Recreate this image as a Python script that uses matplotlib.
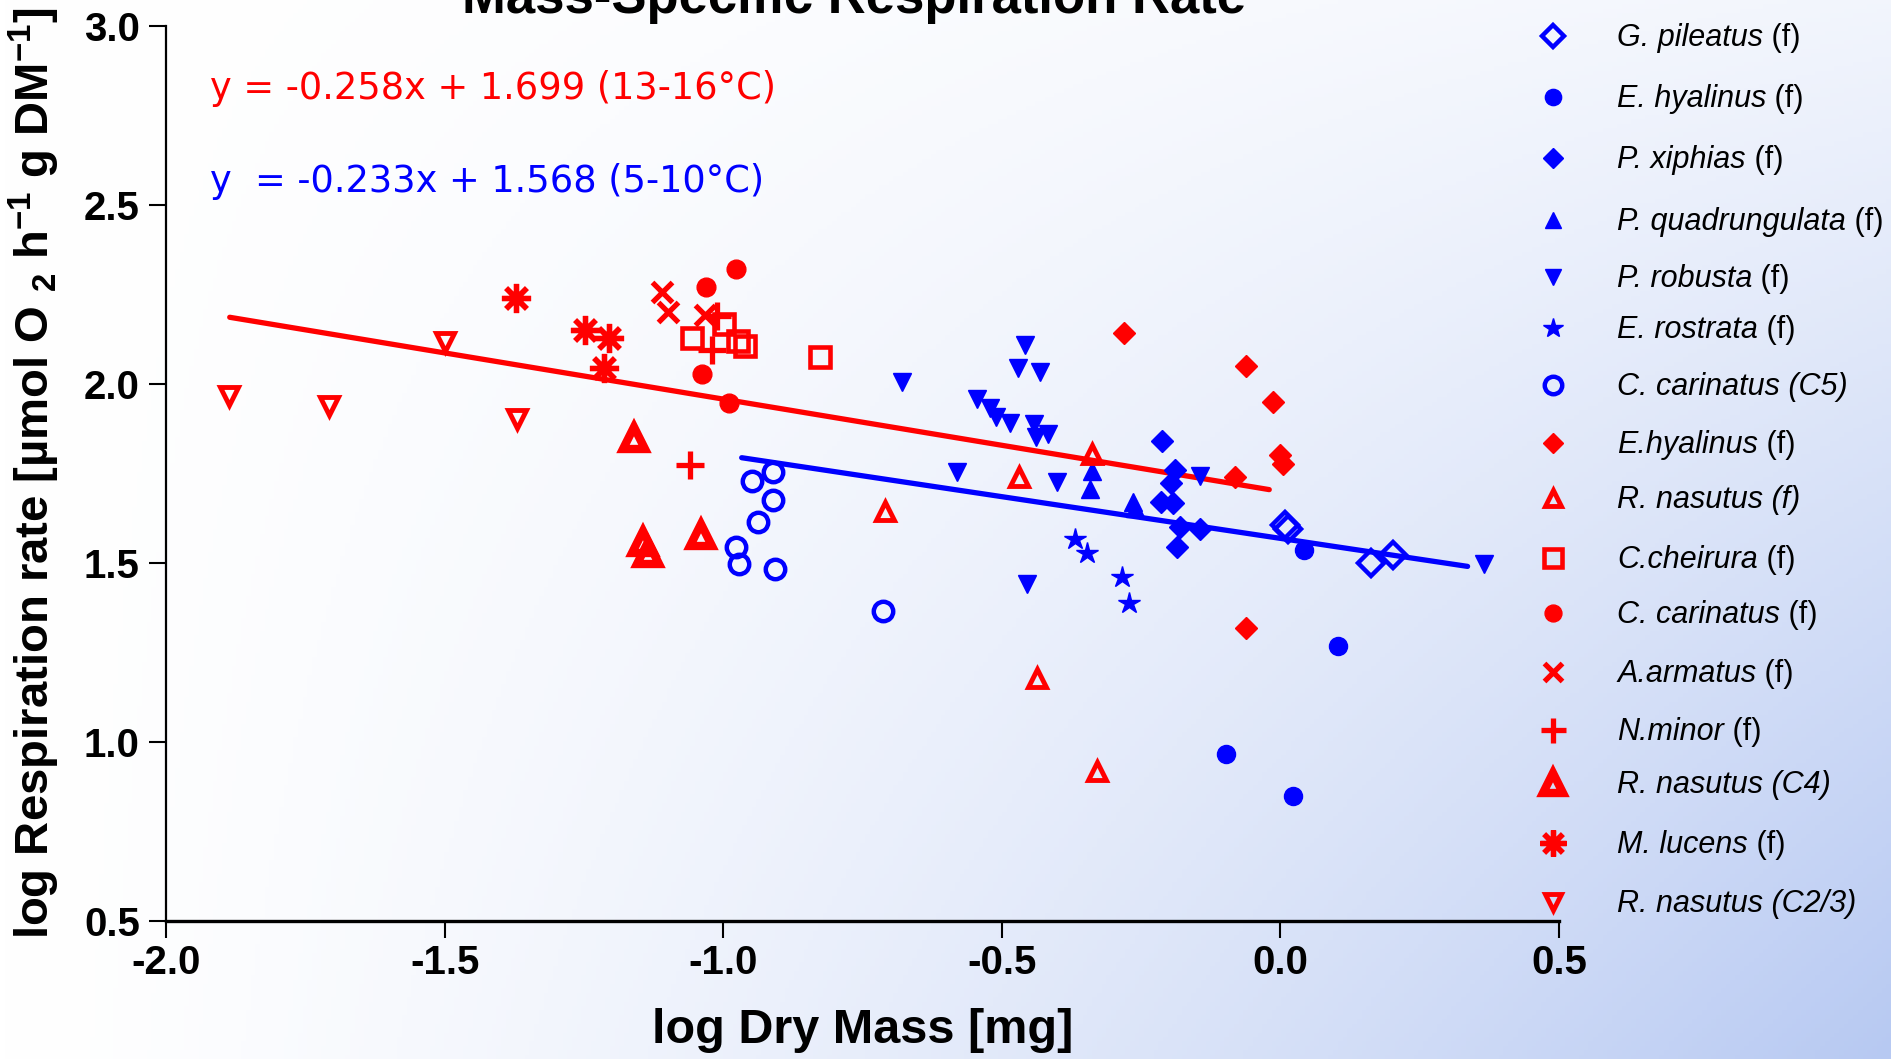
import numpy as np
import matplotlib
matplotlib.use('Agg')
import matplotlib.pyplot as plt

plt.rcParams['font.family'] = ['Liberation Sans', 'DejaVu Sans']
plt.rcParams['mathtext.fontset'] = 'custom'
plt.rcParams['mathtext.rm'] = 'Liberation Sans'
plt.rcParams['mathtext.it'] = 'Liberation Sans:italic'
plt.rcParams['mathtext.bf'] = 'Liberation Sans:bold'
plt.rcParams['axes.unicode_minus'] = False

# --- data (log dry mass, log respiration) ---
# 5-10°C species (blue)
gp_x = [0.008, 0.014, 0.163, 0.202]
gp_y = [1.604, 1.594, 1.498, 1.521]
ehb_x = [0.042, 0.103, -0.097, 0.023]
ehb_y = [1.535, 1.267, 0.965, 0.848]
px_x = [-0.212, -0.190, -0.197, -0.214, -0.193, -0.181, -0.145, -0.186]
px_y = [1.840, 1.759, 1.722, 1.670, 1.666, 1.601, 1.593, 1.543]
pq_x = [-0.338, -0.341, -0.265, -0.261]
pq_y = [1.757, 1.705, 1.670, 1.652]
pr_x = [-0.680, -0.458, -0.471, -0.431, -0.545, -0.521, -0.511, -0.485,
        -0.443, -0.417, -0.439, -0.580, -0.401, -0.454, -0.145, 0.365]
pr_y = [2.006, 2.108, 2.043, 2.032, 1.956, 1.931, 1.908, 1.891,
        1.888, 1.860, 1.850, 1.754, 1.726, 1.440, 1.742, 1.496]
er_x = [-0.369, -0.348, -0.285, -0.272]
er_y = [1.565, 1.526, 1.459, 1.388]
cc5_x = [-0.911, -0.949, -0.911, -0.938, -0.978, -0.972, -0.908, -0.713]
cc5_y = [1.754, 1.728, 1.675, 1.613, 1.545, 1.496, 1.482, 1.366]

# 13-16°C species (red)
ehr_x = [-0.281, -0.061, -0.014, 0.000, 0.004, -0.082, -0.062]
ehr_y = [2.141, 2.050, 1.950, 1.801, 1.776, 1.739, 1.317]
rnf_x = [-0.710, -0.470, -0.339, -0.437, -0.329]
rnf_y = [1.645, 1.740, 1.804, 1.177, 0.919]
cch_x = [-1.057, -0.999, -0.974, -0.961, -0.827]
cch_y = [2.127, 2.167, 2.119, 2.105, 2.074]
ccf_x = [-1.031, -1.039, -0.989, -0.978]
ccf_y = [2.269, 2.027, 1.946, 2.320]
aa_x = [-1.110, -1.099, -1.032]
aa_y = [2.257, 2.199, 2.192]
nm_x = [-1.060, -1.021, -1.012]
nm_y = [1.773, 2.094, 2.190]
rnc4_x = [-1.160, -1.145, -1.136, -1.040]
rnc4_y = [1.847, 1.559, 1.526, 1.577]
ml_x = [-1.372, -1.249, -1.205, -1.214]
ml_y = [2.239, 2.150, 2.129, 2.043]
rnc23_x = [-1.887, -1.707, -1.500, -1.370]
rnc23_y = [1.966, 1.938, 2.117, 1.901]

# regression lines
red_fit = (-0.258, 1.699)
red_xrange = [-1.886, -0.020]
blue_fit = (-0.233, 1.568)
blue_xrange = [-0.967, 0.336]

x_ticks = [-2.0, -1.5, -1.0, -0.5, 0.0, 0.5]
y_ticks = [0.5, 1.0, 1.5, 2.0, 2.5, 3.0]

B = '#0000ff'
R = '#ff0000'
# italic name, upright suffix, x, y, color, marker, size, edge width, filled
series = [
    ('G. pileatus', ' (f)', gp_x, gp_y, B, 'D', 13, 3.2, False),
    ('E. hyalinus', ' (f)', ehb_x, ehb_y, B, 'o', 13, 1, True),
    ('P. xiphias', ' (f)', px_x, px_y, B, 'D', 11, 1, True),
    ('P. quadrungulata', ' (f)', pq_x, pq_y, B, '^', 13, 1, True),
    ('P. robusta', ' (f)', pr_x, pr_y, B, 'v', 13, 1, True),
    ('E. rostrata', ' (f)', er_x, er_y, B, '*', 16, 1, True),
    ('C. carinatus (C5)', '', cc5_x, cc5_y, B, 'o', 14, 3.2, False),
    ('E.hyalinus', ' (f)', ehr_x, ehr_y, R, 'D', 11.5, 1, True),
    ('R. nasutus (f)', '', rnf_x, rnf_y, R, '^', 13, 3.5, False),
    ('C.cheirura', ' (f)', cch_x, cch_y, R, 's', 14, 3.3, False),
    ('C. carinatus', ' (f)', ccf_x, ccf_y, R, 'o', 13.5, 1, True),
    ('A.armatus', ' (f)', aa_x, aa_y, R, 'x', 15, 3.8, True),
    ('N.minor', ' (f)', nm_x, nm_y, R, '+', 20, 3.8, True),
    ('R. nasutus (C4)', '', rnc4_x, rnc4_y, R, '^', 16, 6, False),
    ('M. lucens', ' (f)', ml_x, ml_y, R, (8, 2, 0), 21, 3.8, True),
    ('R. nasutus (C2/3)', '', rnc23_x, rnc23_y, R, 'v', 13, 3.5, False),
]

fig = plt.figure(figsize=(18.91, 10.59), dpi=100)

# background gradient (white top-left -> light blue bottom-right)
bg = fig.add_axes([0, 0, 1, 1])
u = np.linspace(0, 1, 400)[None, :]
v = np.linspace(0, 1, 240)[:, None]
t = u ** 1.4 * (0.18 + 0.82 * v)
c0 = np.array([1.0, 1.0, 1.0])
c1 = np.array([183, 201, 242]) / 255
bg.imshow(c0 + (c1 - c0) * t[..., None], aspect='auto', extent=[0, 1, 0, 1])
bg.axis('off')

ax = fig.add_axes([0.0879, 0.1306, 0.7365, 0.8451])
ax.patch.set_alpha(0)

for (a, b), xr, col in [(red_fit, red_xrange, R), (blue_fit, blue_xrange, B)]:
    xr = np.array(xr)
    ax.plot(xr, a * xr + b, color=col, lw=3.8, solid_capstyle='round', zorder=2)

def style(col, mk, ms, mew, filled):
    return dict(linestyle='none', marker=mk, markersize=ms, markeredgewidth=mew,
                markeredgecolor=col, markerfacecolor=col if filled else 'none')

for name, suf, xs, ys, col, mk, ms, mew, filled in series:
    ax.plot(xs, ys, zorder=3, **style(col, mk, ms, mew, filled))

ax.set_xlim(-2.0, 0.5)
ax.set_ylim(0.5, 3.0)
ax.set_xticks(x_ticks, labels=[f'{v:.1f}' for v in x_ticks], fontweight='bold')
ax.set_yticks(y_ticks, labels=[f'{v:.1f}' for v in y_ticks], fontweight='bold')
ax.tick_params(length=12, width=1.5, labelsize=29, direction='out')
ax.tick_params(axis='x', pad=5)
ax.tick_params(axis='y', pad=7)
for s in ['top', 'right']:
    ax.spines[s].set_visible(False)
ax.spines['left'].set_linewidth(1.6)
ax.spines['bottom'].set_linewidth(2.4)

ax.set_xlabel('log Dry Mass [mg]', fontsize=35, fontweight='bold')
ax.xaxis.set_label_coords(0.5, -0.097)
ax.set_ylabel(r'log Respiration rate [µmol O $_{\mathbf{2}}$ h$^{\mathbf{-1}}$ g DM$^{\mathbf{-1}}$]',
              fontsize=34, fontweight='bold')
ax.yaxis.set_label_coords(-0.075, 0.5)

fig.text(0.4516, 0.9877, 'Mass-Specific Respiration Rate', ha='center', va='baseline',
         fontsize=38, fontweight='bold')
fig.text(0.111, 0.9065, 'y = -0.258x + 1.699 (13-16°C)', color=R, fontsize=26.5,
         family='DejaVu Sans', va='baseline')
fig.text(0.111, 0.8187, 'y  = -0.233x + 1.568 (5-10°C)', color=B, fontsize=26.5,
         family='DejaVu Sans', va='baseline')

# legend drawn in pixel space on an overlay
leg_rows = [36, 97, 158, 220, 277, 328, 385, 443, 498, 558, 613, 672, 730, 783, 843, 902]
lax = fig.add_axes([0, 0, 1, 1])
lax.set_xlim(0, 1891)
lax.set_ylim(1059, 0)
lax.axis('off')
for (name, suf, xs, ys, col, mk, ms, mew, filled), yy in zip(series, leg_rows):
    lax.plot([1553], [yy], clip_on=False, **style(col, mk, ms * 0.9, mew, filled))
    txt = lax.text(1617, yy, name, fontsize=22, fontstyle='italic', va='baseline',
                   ha='left', transform=lax.transData)
    txt.set_y(yy + 10)
    if suf:
        lax.annotate(suf, xy=(1, 0), xycoords=txt, fontsize=22, va='bottom', ha='left')

fig.savefig('out.png', dpi=100)
